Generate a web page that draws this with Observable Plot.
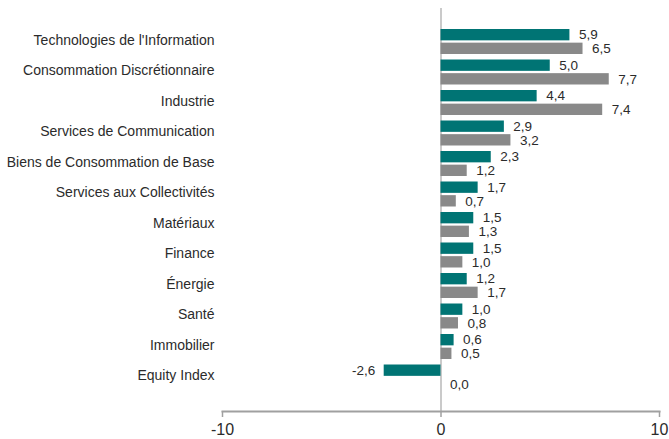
<!DOCTYPE html>
<html>
<head>
<meta charset="utf-8">
<script src="https://cdn.jsdelivr.net/npm/d3@7"></script>
<script src="https://cdn.jsdelivr.net/npm/@observablehq/plot@0.6"></script>
<style>
  html, body { margin: 0; padding: 0; background: #fff; }
  #chart { width: 669px; height: 439px; }
</style>
</head>
<body>
<div id="chart"></div>
<script>
const categories = [
  "Technologies de l'Information",
  "Consommation Discrétionnaire",
  "Industrie",
  "Services de Communication",
  "Biens de Consommation de Base",
  "Services aux Collectivités",
  "Matériaux",
  "Finance",
  "Énergie",
  "Santé",
  "Immobilier",
  "Equity Index"
];
const seriesA = [5.9, 5.0, 4.4, 2.9, 2.3, 1.7, 1.5, 1.5, 1.2, 1.0, 0.6, -2.6];
const seriesB = [6.5, 7.7, 7.4, 3.2, 1.2, 0.7, 1.3, 1.0, 1.7, 0.8, 0.5, 0.0];
const xTicks = [-10, 0, 10];

const colorA = "#007474";
const colorB = "#898989";
const font = "'Liberation Sans', Arial, Helvetica, sans-serif";

const rowsA = categories.map((c, i) => ({cat: c, value: seriesA[i]}));
const rowsB = categories.map((c, i) => ({cat: c, value: seriesB[i]}));
const fmt = v => v.toFixed(1).replace(".", ",");

const chart = Plot.plot({
  width: 669,
  height: 439,
  marginLeft: 222,
  marginRight: 10,
  marginTop: 8,
  marginBottom: 28,
  style: {fontFamily: font, background: "#fff", color: "#2b2b2b", overflow: "visible"},
  x: {domain: [-10, 10]},
  y: {domain: categories, range: [26.25, 392.25], padding: 0, round: false},
  marks: [
    Plot.ruleX([0], {stroke: "#b8b8b8", strokeWidth: 1.5}),
    Plot.barX(rowsA, {x: "value", y: "cat", fill: colorA, insetTop: 2.75, insetBottom: 16.4}),
    Plot.barX(rowsB, {x: "value", y: "cat", fill: colorB, insetTop: 16.4, insetBottom: 2.75}),
    Plot.text(rowsA, {filter: d => d.value >= 0, x: "value", y: "cat", text: d => fmt(d.value), dx: 9, dy: -7, textAnchor: "start", fontSize: 13.5, fill: "#2b2b2b"}),
    Plot.text(rowsA, {filter: d => d.value < 0, x: "value", y: "cat", text: d => fmt(d.value), dx: -9, dy: -7, textAnchor: "end", fontSize: 13.5, fill: "#2b2b2b"}),
    Plot.text(rowsB, {x: "value", y: "cat", text: d => fmt(d.value), dx: 9, dy: 7, textAnchor: "start", fontSize: 13.5, fill: "#2b2b2b"}),
    Plot.frame({anchor: "bottom", stroke: "#a0a0a0", strokeWidth: 2}),
    Plot.axisX({anchor: "bottom", ticks: xTicks, tickFormat: d => `${d}`, tickSize: 6, tickPadding: 6, stroke: "#a0a0a0", strokeWidth: 1.5, fontSize: 16, fill: "#2b2b2b", label: null}),
    Plot.axisY({anchor: "left", tickSize: 0, tickPadding: 8, dy: -1.5, fontSize: 14, fill: "#2b2b2b", label: null})
  ]
});
document.getElementById("chart").appendChild(chart);
</script>
</body>
</html>
